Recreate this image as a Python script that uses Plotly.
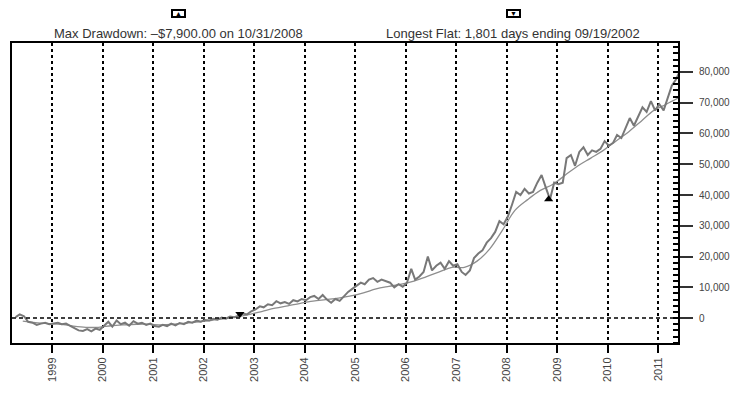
import pandas as pd
import plotly.graph_objects as go

# ---- data ----
equity_start = "1998-03-10"
equity_k = [
    # 1998 Mar-Dec
    0.3, 1.2, 0.6, -1.2, -1.5, -2.2, -1.8, -1.5, -2.0, -1.8,
    # 1999
    -1.5, -2.0, -1.8, -2.5, -3.2, -4.0, -4.2, -3.6, -4.3, -3.4, -3.8, -2.6,
    # 2000
    -1.2, -2.8, -0.8, -2.0, -1.5, -2.5, -1.0, -1.8, -1.5, -2.2, -1.8, -2.6,
    # 2001
    -2.8, -2.2, -2.6, -1.8, -2.4, -1.6, -2.0, -1.2, -1.5, -0.8, -1.2, -0.6,
    # 2002
    -0.8, -0.2, -0.5, 0.2, -0.2, 0.5, 0.3, 0.8, 1.5, 1.2, 2.2, 2.8,
    # 2003
    3.8, 3.5, 4.5, 4.2, 5.5, 4.8, 5.2, 4.6, 5.8, 5.4, 6.2, 5.8,
    # 2004
    6.8, 7.2, 6.2, 7.5, 6.0, 5.0, 6.2, 5.6, 7.0, 8.5, 9.5, 10.5,
    # 2005
    11.5, 11.0, 12.5, 13.0, 11.8, 12.5, 12.0, 11.5, 10.0, 11.0, 10.2, 11.5,
    # 2006
    16.0, 12.5, 13.5, 15.0, 20.0, 15.5, 17.0, 18.0, 16.0, 18.5, 17.0, 17.5,
    # 2007
    15.0, 14.0, 15.5, 19.5, 21.0, 22.0, 24.5, 26.0, 28.0, 31.5, 30.5, 33.0,
    # 2008
    37.0, 41.0, 40.0, 42.0, 40.5, 41.0, 44.0, 46.5, 42.5, 38.6, 44.0, 43.5,
    # 2009
    44.0, 52.0, 53.0, 49.5, 54.0, 55.5, 53.0, 54.5, 54.0, 55.0, 57.5, 56.0,
    # 2010
    57.0, 59.5, 58.5, 61.5, 65.0, 62.5, 65.5, 68.5, 67.0, 70.5, 67.5, 69.5,
    # 2011 Jan-May
    67.5, 71.5, 75.5, 77.5, 80.5,
]

ma_dates = [
    "1998-06-01", "1998-09-01", "1998-12-01", "1999-03-01", "1999-06-01", "1999-09-01",
    "1999-12-01", "2000-03-01", "2000-06-01", "2000-09-01", "2000-12-01", "2001-03-01",
    "2001-06-01", "2001-09-01", "2001-12-01", "2002-03-01", "2002-06-01", "2002-09-01",
    "2002-12-01", "2003-03-01", "2003-06-01", "2003-09-01", "2003-12-01", "2004-03-01",
    "2004-06-01", "2004-09-01", "2004-12-01", "2005-03-01", "2005-06-01", "2005-09-01",
    "2005-12-01", "2006-03-01", "2006-06-01", "2006-09-01", "2006-12-01", "2007-03-01",
    "2007-06-01", "2007-09-01", "2007-12-01", "2008-03-01", "2008-06-01", "2008-09-01",
    "2008-12-01", "2009-03-01", "2009-06-01", "2009-09-01", "2009-12-01", "2010-03-01",
    "2010-06-01", "2010-09-01", "2010-12-01", "2011-03-01", "2011-05-25",
]
ma_k = [
    -1.0, -1.5, -1.8, -2.0, -2.6, -3.0,
    -3.0, -2.5, -2.2, -2.0, -2.0, -2.2,
    -2.0, -1.6, -1.2, -0.7, -0.2, 0.4,
    1.2, 2.2, 3.2, 4.0, 4.8, 5.5,
    6.0, 6.5, 7.2, 8.2, 9.5, 10.3,
    11.0, 12.0, 13.5, 15.0, 16.5, 16.5,
    18.5, 22.5, 28.5, 35.0, 38.5, 41.5,
    43.5, 46.5, 49.5, 52.0, 54.5, 57.5,
    60.5, 64.0, 67.5, 69.5, 71.5,
]

flat_end_date = ["2002-09-19"]
flat_end_value = [1300]
drawdown_date = ["2008-10-31"]
drawdown_value = [38600]

year_ticks = [str(y) for y in range(1999, 2012)]
y_ticks = [0, 10000, 20000, 30000, 40000, 50000, 60000, 70000, 80000]

title_left = "Max Drawdown: \u2013$7,900.00 on 10/31/2008"
title_right = "Longest Flat: 1,801 days ending 09/19/2002"

# ---- figure ----
eq_dates = pd.date_range(equity_start, periods=len(equity_k), freq="MS") + pd.Timedelta(days=9)
eq_vals = [v * 1000 for v in equity_k]
ma_vals = [v * 1000 for v in ma_k]

fig = go.Figure()
fig.add_trace(go.Scatter(x=pd.to_datetime(ma_dates), y=ma_vals, mode="lines",
                         line=dict(color="#8e8e8e", width=1.3, shape="spline"),
                         hoverinfo="skip"))
fig.add_trace(go.Scatter(x=eq_dates, y=eq_vals, mode="lines",
                         line=dict(color="#787878", width=2)))
fig.add_trace(go.Scatter(x=pd.to_datetime(flat_end_date), y=flat_end_value, mode="markers",
                         marker=dict(symbol="triangle-down", size=8, color="black")))
fig.add_trace(go.Scatter(x=pd.to_datetime(drawdown_date), y=drawdown_value, mode="markers",
                         marker=dict(symbol="triangle-up", size=8, color="black")))

# zero dashed line
fig.add_shape(type="line", xref="paper", x0=0, x1=1, yref="y", y0=0, y1=0,
              line=dict(color="black", width=1.5, dash="4px,3px"), layer="above")

font_main = "Liberation Sans, Arial, sans-serif"

fig.add_annotation(xref="paper", yref="paper", x=0.25, y=1.0, xanchor="center", yanchor="bottom", yshift=0,
                   text=title_left, showarrow=False, font=dict(family=font_main, size=13, color="#333"))
fig.add_annotation(xref="paper", yref="paper", x=0.753, y=1.0, xanchor="center", yanchor="bottom", yshift=0,
                   text=title_right, showarrow=False, font=dict(family=font_main, size=13, color="#333"))
fig.add_annotation(xref="paper", yref="paper", x=0.25, y=1.0, xanchor="center", yanchor="bottom", yshift=25,
                   text="\u25b2", showarrow=False, font=dict(size=7, color="black"),
                   bordercolor="black", borderwidth=2, borderpad=0, bgcolor="white", width=11, height=5)
fig.add_annotation(xref="paper", yref="paper", x=0.753, y=1.0, xanchor="center", yanchor="bottom", yshift=25,
                   text="\u25bc", showarrow=False, font=dict(size=7, color="black"),
                   bordercolor="black", borderwidth=2, borderpad=0, bgcolor="white", width=11, height=5)

fig.update_layout(
    width=740, height=394,
    margin=dict(l=2, r=70, t=35, b=59),
    paper_bgcolor="white", plot_bgcolor="white",
    showlegend=False,
    font=dict(family=font_main, size=11, color="#444"),
    xaxis=dict(
        range=["1998-03-15", "2011-05-25"],
        tickvals=pd.to_datetime([f"{y}-01-01" for y in year_ticks]),
        ticktext=year_ticks,
        tickangle=-90,
        ticks="outside", ticklen=8, tickwidth=2, tickcolor="black",
        showgrid=True, gridcolor="black", gridwidth=1.5, griddash="3px,3px",
        showline=True, linecolor="black", linewidth=2, mirror=True,
        zeroline=False,
        tickfont=dict(size=11, color="#444"),
    ),
    yaxis=dict(
        range=[-8100, 89400],
        side="right",
        tickvals=y_ticks,
        ticktext=[f"{v:,}" for v in y_ticks],
        ticks="outside", ticklen=13, tickwidth=2, tickcolor="#333",
        ticklabelstandoff=4,
        minor=dict(dtick=2000, tick0=0, ticks="inside", ticklen=5, tickwidth=1.5, tickcolor="black", showgrid=False),
        showgrid=False, zeroline=False,
        showline=True, linecolor="black", linewidth=2, mirror=True,
        tickfont=dict(size=10, color="#444"),
    ),
)

fig.write_html("out.html")
